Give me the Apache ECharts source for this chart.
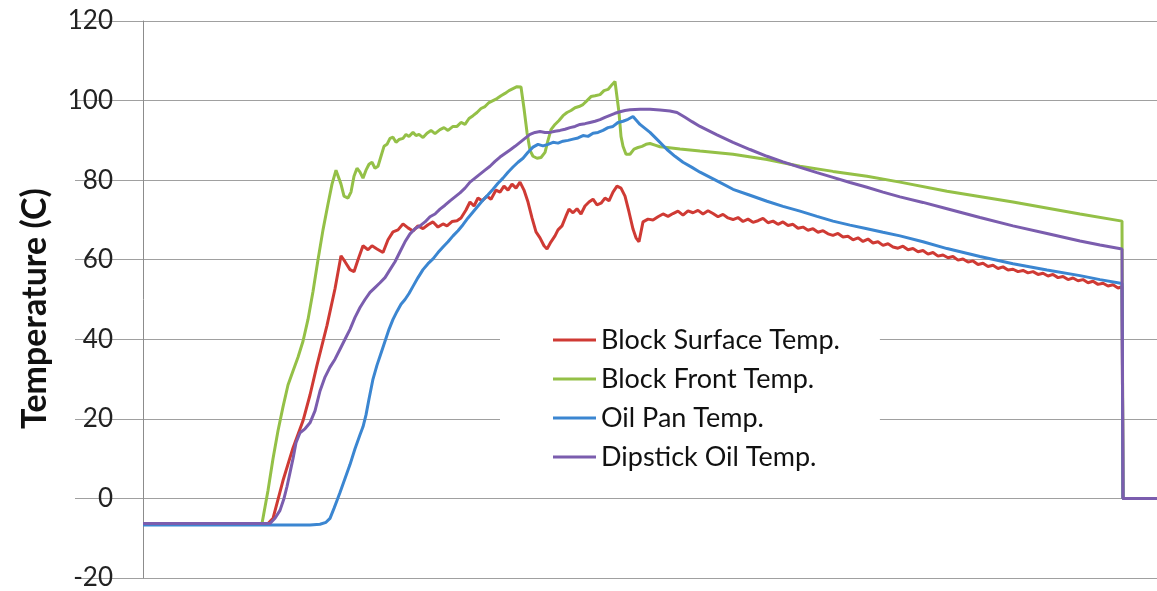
<!DOCTYPE html>
<html>
<head>
<meta charset="utf-8">
<script src="https://cdn.jsdelivr.net/npm/echarts@6/dist/echarts.min.js"></script>
<style>
html,body{margin:0;padding:0;background:#fff;}
#chart{width:1157px;height:591px;}
</style>
</head>
<body>
<div id="chart"></div>
<script>
// time index (arbitrary units), temperature (C)
const seriesNames = ['Block Surface Temp.', 'Block Front Temp.', 'Oil Pan Temp.', 'Dipstick Oil Temp.'];
const yTicks = [-20, 0, 20, 40, 60, 80, 100, 120];

const blockSurface = [[0,-6.3],[125,-6.3],[130,-5],[140,4.5],[150,12.7],[160,19.5],[167,26],[174,33.5],[184,43.5],[192,52.7],[198,61],[202,59.5],[207,57.5],[211,57],[215,60],[220,63.5],[225,62.5],[229,63.5],[234,62.7],[240,61.8],[245,65],[250,67],[255,67.5],[260,69],[265,68],[270,67.2],[275,68.5],[280,67.8],[285,68.8],[290,69.5],[295,68.2],[300,69],[304,68.5],[309,69.6],[314,69.8],[318,70.5],[323,72.5],[327,74.5],[331,73.5],[335,75.5],[339,74.8],[344,76],[348,75.2],[353,77.5],[357,77],[361,78.5],[365,77.5],[369,79],[373,78],[377,79.5],[381,77.5],[385,74.5],[389,70.5],[393,67],[397,65.5],[401,63.5],[404,62.7],[408,64.5],[412,66],[415,67.5],[419,68.5],[423,71],[426,72.7],[430,71.8],[434,72.8],[438,71.5],[442,73.5],[446,74.5],[450,75.2],[454,73.8],[458,74.2],[462,75.5],[466,74.8],[470,77],[474,78.5],[478,78],[482,76],[486,72],[490,67.7],[493,65.5],[496,64.5],[500,69.5],[505,70.2],[510,70],[515,70.8],[520,71.5],[525,70.9],[530,71.6],[535,72.2],[540,71.2],[545,72.3],[550,71.8],[555,72.4],[560,71.5],[565,72.3],[570,71.6],[575,70.8],[580,71.4],[585,70.5],[590,70.1],[595,70.6],[600,69.6],[605,70.2],[610,69.4],[615,69.8],[620,70.4],[625,69.3],[630,69.7],[635,68.9],[640,69.5],[645,68.6],[650,68.9],[655,67.9],[660,68.2],[665,67.4],[670,67.8],[675,66.9],[680,67.3],[685,66.5],[690,66.1],[695,66.6],[700,65.7],[705,65.9],[710,65],[715,65.5],[720,64.6],[725,65.2],[730,64.2],[735,64.5],[740,63.6],[745,64],[750,63.2],[755,62.9],[760,63.4],[765,62.5],[770,62.8],[775,62],[780,62.3],[785,61.4],[790,61.8],[795,60.9],[800,61.2],[805,60.5],[810,60.8],[815,59.9],[820,60.2],[825,59.4],[830,59.7],[835,58.8],[840,59.1],[845,58.3],[850,58.6],[855,57.8],[860,58.2],[865,57.4],[870,57.6],[875,57.0],[880,57.3],[885,56.7],[890,57.0],[895,56.3],[900,56.6],[905,55.9],[910,56.3],[915,55.5],[920,55.8],[925,55.0],[930,55.4],[935,54.7],[940,55.0],[945,54.2],[950,54.6],[955,53.8],[960,54.1],[965,53.4],[970,53.7],[975,52.9],[979,53.2],[980,0],[1014,0]];

const blockFront = [[0,-6.3],[119,-6.3],[120,-6],[125,2],[130,10],[135,17],[140,23],[145,28.5],[150,32],[155,35.5],[160,39.5],[165,45],[170,52],[175,60],[180,67.5],[185,74],[189,79],[193,82.5],[195,82],[198,79],[201,76],[205,75.5],[208,77],[211,81],[214,83],[217,82],[220,80.5],[223,82.5],[226,84],[229,84.5],[232,83],[235,83.5],[238,86],[241,88.5],[244,89],[247,90.5],[250,90.8],[253,89.5],[256,90.2],[260,90.5],[263,91.5],[266,91],[270,92],[273,91.2],[276,91.5],[280,90.7],[284,91.8],[288,92.5],[292,91.7],[297,92.7],[301,93.2],[305,92.5],[310,93.5],[314,93.5],[318,94.5],[322,94],[326,95.5],[330,96.2],[334,97],[338,98],[342,98.5],[346,99.5],[350,100],[354,100.5],[358,101.2],[362,101.8],[366,102.5],[370,103],[374,103.5],[378,103.4],[381,98],[384,92],[387,87.5],[390,86],[394,85.5],[398,85.7],[402,87],[405,90],[408,92.7],[412,94],[416,95],[420,96.2],[424,97],[428,97.5],[432,98.2],[436,98.5],[440,99],[444,100],[448,101],[452,101.2],[457,101.5],[461,102.5],[465,102.8],[469,104],[472,104.8],[474,104.5],[476,97],[478,91],[480,88.5],[483,86.5],[487,86.5],[491,87.8],[495,88.2],[499,88.5],[503,89],[507,89.2],[512,88.8],[517,88.4],[524,88.2],[537,87.8],[557,87.3],[590,86.5],[624,85.2],[657,83.5],[690,82.2],[724,81],[757,79.5],[804,77.2],[870,74.5],[937,71.5],[979,69.7],[980,0],[1014,0]];

const oilPan = [[0,-6.7],[167,-6.7],[177,-6.5],[183,-6],[187,-5],[191,-2.5],[194,-0.5],[197,1.5],[202,5],[207,8.5],[212,12.5],[217,16],[220,18],[223,21],[226,25],[230,30],[234,33.5],[238,36.5],[242,39.5],[246,42.5],[250,45],[254,47],[258,48.8],[262,50],[266,51.5],[270,53.3],[275,55.5],[280,57.5],[285,59],[290,60.2],[295,61.8],[300,63.2],[305,64.5],[310,66],[315,67.3],[320,68.8],[325,70.5],[330,72],[335,73.5],[340,75],[345,76.3],[350,77.7],[355,79.2],[360,80.5],[365,82],[370,83.3],[375,84.5],[380,85.5],[385,87],[390,88.3],[395,89],[400,88.6],[405,89],[410,89.5],[415,89.3],[420,89.8],[425,90],[430,90.3],[435,90.6],[440,91.2],[445,91],[450,91.8],[455,92],[460,92.5],[465,93.2],[470,93.5],[475,94.5],[480,94.8],[485,95.3],[490,96],[497,94],[507,92],[515,90],[524,87.7],[532,86],[540,84.5],[549,83.2],[557,82],[574,79.8],[590,77.7],[607,76.2],[624,74.7],[640,73.4],[657,72.2],[674,70.9],[690,69.7],[707,68.7],[724,67.8],[740,66.9],[757,66],[780,64.5],[804,62.8],[837,60.8],[870,59],[904,57.4],[937,56],[957,55],[979,54],[980,0],[1014,0]];

const dipstick = [[0,-6.3],[127,-6.3],[132,-5],[137,-3],[141,0],[144,3],[147,6.5],[150,10],[153,14],[157,16.5],[162,17.5],[167,19],[172,22],[177,27],[182,30.5],[187,33],[192,35],[197,37.5],[202,40],[207,42.5],[212,45.5],[217,48],[222,50],[227,51.8],[232,53],[237,54.2],[242,55.5],[247,57.5],[252,59.5],[257,62],[262,64.5],[267,66.5],[272,67.8],[277,68.5],[282,69.5],[287,70.8],[292,71.5],[297,72.7],[302,73.7],[307,74.8],[312,75.8],[317,76.8],[322,78],[327,79.5],[332,80.5],[337,81.5],[342,82.5],[347,83.5],[352,84.7],[357,85.8],[362,86.7],[367,87.6],[372,88.5],[377,89.5],[382,90.5],[387,91.5],[392,92],[397,92.2],[402,92],[407,92],[412,92.3],[417,92.5],[422,92.8],[427,93.2],[432,93.5],[437,94],[442,94.2],[447,94.5],[452,94.8],[457,95.2],[462,95.8],[467,96.3],[472,96.8],[477,97.2],[482,97.5],[487,97.7],[497,97.8],[507,97.8],[517,97.6],[527,97.4],[534,97],[542,95.8],[549,94.7],[557,93.5],[574,91.4],[590,89.5],[607,87.7],[624,86],[640,84.6],[657,83.2],[674,81.9],[690,80.7],[707,79.4],[724,78.2],[740,77],[757,75.8],[780,74.4],[804,72.8],[837,70.6],[870,68.5],[904,66.6],[937,64.7],[957,63.7],[979,62.7],[980,0],[1014,0]];

const seriesData = [blockSurface, blockFront, oilPan, dipstick];
const colors = ['#CF3A34', '#94C047', '#3B86D1', '#7B5DAE'];

const chart = echarts.init(document.getElementById('chart'), null, {renderer: 'canvas'});
const FONT = 'Lato, "Open Sans", sans-serif';
chart.setOption({
  animation: false,
  backgroundColor: '#ffffff',
  grid: {left: 143, right: 0, top: 21, bottom: 10, containLabel: false},
  legend: {
    data: seriesNames,
    orient: 'vertical',
    left: 500, top: 314,
    padding: [12, 40, 14, 53],
    backgroundColor: '#ffffff',
    icon: 'rect',
    itemWidth: 43, itemHeight: 3,
    itemGap: 11,
    textStyle: {fontFamily: FONT, fontSize: 27, lineHeight: 28, color: '#111'}
  },
  xAxis: {
    type: 'value', min: 0, max: 1014,
    axisLine: {show: false}, axisTick: {show: false},
    axisLabel: {show: false}, splitLine: {show: false}
  },
  yAxis: {
    type: 'value', min: yTicks[0], max: yTicks[yTicks.length - 1], interval: 20,
    name: 'Temperature (C)', nameLocation: 'middle', nameGap: 91, nameRotate: 90,
    nameTextStyle: {fontFamily: FONT, fontSize: 34, fontWeight: 'bold', color: '#111', padding: [0, 18, 0, 0]},
    axisLine: {show: true, lineStyle: {color: '#8c8c8c', width: 1}},
    axisTick: {show: true, length: 68, lineStyle: {color: '#a0a0a0', width: 1}},
    axisLabel: {margin: 30, fontFamily: FONT, fontSize: 26, color: '#222'},
    splitLine: {show: true, lineStyle: {color: '#a0a0a0', width: 1}}
  },
  series: seriesNames.map((n, i) => ({
    name: n, type: 'line', data: seriesData[i],
    showSymbol: false, symbol: 'none',
    color: colors[i],
    lineStyle: {color: colors[i], width: 3},
    z: 2 + i
  }))
});
</script>
</body>
</html>
